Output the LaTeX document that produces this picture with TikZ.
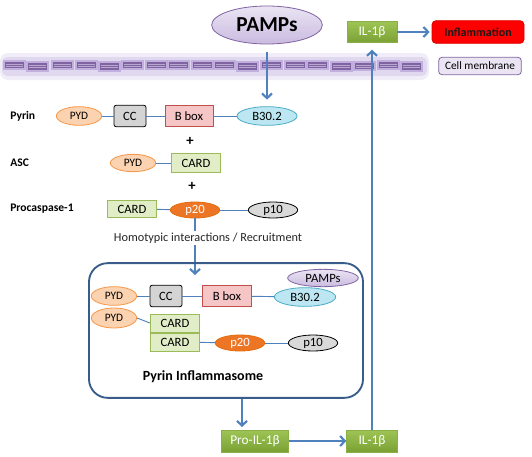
\documentclass[tikz,border=0pt]{standalone}
\usepackage{fontspec}
\setmainfont{Carlito}
\usetikzlibrary{shapes.geometric,arrows.meta}
\definecolor{linkBlue}{HTML}{4F81BD}
\definecolor{boxBlue}{HTML}{385D8A}
\definecolor{pampsViolet}{HTML}{8064A2}
\definecolor{pampsLight}{HTML}{EAE4F3}
\definecolor{pampsMid}{HTML}{CABBE0}
\definecolor{membraneGlow}{HTML}{B9A6DA}
\definecolor{membraneLine}{HTML}{B8A8D2}
\definecolor{ilGreenTop}{HTML}{9DC454}
\definecolor{ilGreenBottom}{HTML}{7BA136}
\definecolor{ilGreenEdge}{HTML}{8AAF47}
\definecolor{pydFill}{HTML}{FBD3B1}
\definecolor{pydEdge}{HTML}{F79646}
\definecolor{ccFill}{HTML}{D4D4D4}
\definecolor{bboxFill}{HTML}{F5C6C5}
\definecolor{bboxEdge}{HTML}{C0504D}
\definecolor{bthirtyFill}{HTML}{BCE6F2}
\definecolor{bthirtyEdge}{HTML}{4BACC6}
\definecolor{cardFill}{HTML}{E0EDC6}
\definecolor{cardEdge}{HTML}{9BBB59}
\definecolor{ptwentyFill}{HTML}{EC7626}
\definecolor{ptwentyEdge}{HTML}{E46C0A}
\definecolor{ptenFill}{HTML}{D9D9D9}
\definecolor{inflamRed}{HTML}{FF0000}

\tikzset{
  protbase/.style={inner sep=0pt, line width=0.6pt, font=\fontsize{9.5}{10}\selectfont},
  pydnode/.style={protbase, ellipse, draw=pydEdge, fill=pydFill, minimum width=34pt, minimum height=14pt, font=\fontsize{8.5}{9}\selectfont},
  ccnode/.style={protbase, rectangle, rounded corners=1.5pt, draw=black, fill=ccFill, minimum width=24pt, minimum height=16pt},
  bboxnode/.style={protbase, rectangle, draw=bboxEdge, fill=bboxFill, minimum width=36pt, minimum height=16pt},
  bthirtynode/.style={protbase, ellipse, draw=bthirtyEdge, fill=bthirtyFill, minimum width=45pt, minimum height=14pt},
  cardnode/.style={protbase, rectangle, draw=cardEdge, fill=cardFill, minimum width=37pt, minimum height=13.5pt},
  ptwentynode/.style={protbase, ellipse, draw=ptwentyEdge, fill=ptwentyFill, text=white, minimum width=37pt, minimum height=12pt},
  ptennode/.style={protbase, ellipse, draw=black, fill=ptenFill, minimum width=37pt, minimum height=12pt},
  ilbox/.style={protbase, rectangle, draw=ilGreenEdge, top color=ilGreenTop, bottom color=ilGreenBottom, text=white, minimum height=16.5pt, font=\fontsize{10}{11}\selectfont},
  rowlabel/.style={anchor=west, inner sep=0pt, font=\bfseries\fontsize{8.7}{10}\selectfont},
  link/.style={draw=linkBlue, line width=0.7pt},
  flowarrow/.style={draw=linkBlue, line width=1.6pt, -{Straight Barb[length=3.5pt,width=7.5pt]}},
  membraneseg/.style={rectangle, inner sep=0pt, minimum width=14.5pt, minimum height=5pt, fill=pampsViolet,
    preaction={draw=membraneGlow, line width=3pt, opacity=0.8},
    path picture={
      \draw[membraneLine, line width=0.45pt] ([xshift=1.2pt,yshift=0.9pt]path picture bounding box.west) -- ([xshift=-1.2pt,yshift=0.9pt]path picture bounding box.east);
      \draw[membraneLine, line width=0.45pt] ([xshift=1.2pt,yshift=-0.9pt]path picture bounding box.west) -- ([xshift=-1.2pt,yshift=-0.9pt]path picture bounding box.east);
    }}
}

\begin{document}
\begin{tikzpicture}[x=0.75pt, y=-0.75pt]
        \useasboundingbox (0,0) rectangle (532,457);

        % cell membrane
        \fill[membraneGlow, opacity=0.2, rounded corners=6pt] (0,53) rectangle (429,80);
        \fill[membraneGlow, opacity=0.3, rounded corners=4pt] (2,57) rectangle (427,76);
        \node[membraneseg] (mem1) at (14.5,65) {};
        \node[membraneseg] (mem2) at (37.5,66.5) {};
        \node[membraneseg] (mem3) at (62.5,65) {};
        \node[membraneseg] (mem4) at (86.5,65) {};
        \node[membraneseg] (mem5) at (109.5,66.5) {};
        \node[membraneseg] (mem6) at (132.5,65) {};
        \node[membraneseg] (mem7) at (156.5,65) {};
        \node[membraneseg] (mem8) at (178.5,65) {};
        \node[membraneseg] (mem9) at (202.5,65) {};
        \node[membraneseg] (mem10) at (224.5,65) {};
        \node[membraneseg] (mem11) at (247.5,66.5) {};
        \node[membraneseg] (mem12) at (271.5,65) {};
        \node[membraneseg] (mem13) at (295.5,65) {};
        \node[membraneseg] (mem14) at (317.5,65) {};
        \node[membraneseg] (mem15) at (341.5,66.5) {};
        \node[membraneseg] (mem16) at (364.5,66) {};
        \node[membraneseg] (mem17) at (388.5,65) {};
        \node[membraneseg] (mem18) at (411.5,66.5) {};
        \node[protbase, rectangle, rounded corners=2.5pt, draw=pampsViolet, fill=pampsLight, minimum width=62pt, minimum height=13pt, font=\fontsize{8.5}{9}\selectfont] (cellmem) at (480,66) {Cell membrane};

        % outside
        \node[protbase, ellipse, draw=pampsViolet, top color=pampsLight, bottom color=pampsMid, minimum width=83pt, minimum height=28.5pt, font=\bfseries\fontsize{16}{18}\selectfont] (pamps) at (267,25) {PAMPs};
        \node[ilbox, minimum width=37.5pt, minimum height=16pt] (il1top) at (372,32) {IL-1β};
        \node[protbase, rectangle, rounded corners=3pt, draw=red!85!black, fill=inflamRed, minimum width=69pt, minimum height=17pt, font=\bfseries\fontsize{9}{10}\selectfont, text=black!90] (inflam) at (478,32) {Inflammation};

        % Pyrin
        \node[rowlabel] (pyrinlabel) at (10,116) {Pyrin};
        \node[pydnode] (pyd1) at (79,116) {PYD};
        \node[ccnode] (cc1) at (130,116) {CC};
        \node[bboxnode] (bbox1) at (189,116) {B box};
        \node[bthirtynode] (b302a) at (267,116) {B30.2};
        \draw[link] (pyd1) -- (cc1);
        \draw[link] (cc1) -- (bbox1);
        \draw[link] (bbox1) -- (b302a);
        \node[font=\bfseries\fontsize{11}{12}\selectfont] (plus1) at (190,141) {+};

        % ASC
        \node[rowlabel] (asclabel) at (10,163) {ASC};
        \node[pydnode, minimum height=13pt] (pyd2) at (133,163) {PYD};
        \node[cardnode, minimum height=14pt] (card1) at (196,163) {CARD};
        \draw[link] (pyd2) -- (card1);
        \node[font=\bfseries\fontsize{11}{12}\selectfont] (plus2) at (192,186) {+};

        % Procaspase-1
        \node[rowlabel] (proclabel) at (10,209) {Procaspase-1};
        \node[cardnode, minimum height=12.5pt] (card2) at (132,209) {CARD};
        \node[ptwentynode] (p20a) at (195,210) {p20};
        \node[ptennode] (p10a) at (273,210) {p10};
        \draw[link] (card2) -- (p20a);
        \draw[link] (p20a) -- (p10a);

        % recruitment
        \coordinate (recruitTip) at (195,275);
        \draw[flowarrow] (p20a.south) -- (recruitTip);
        \node[fill=white, inner sep=1.5pt, text=black!85, font=\fontsize{9.2}{10}\selectfont] (homotypic) at (208,238) {Homotypic interactions / Recruitment};

        % inflammasome
        \node[draw=boxBlue, line width=1.4pt, rounded corners=14pt, minimum width=205.5pt, minimum height=101pt, inner sep=0pt] (inflammasome) at (226,330.5) {};
        \node[protbase, ellipse, draw=pampsViolet, top color=pampsLight, bottom color=pampsMid, minimum width=53pt, minimum height=13pt] (pamps2) at (323,278) {PAMPs};
        \node[pydnode] (pyd3) at (114,296) {PYD};
        \node[ccnode] (cc2) at (166,296) {CC};
        \node[bboxnode, minimum width=37pt] (bbox2) at (227,296) {B box};
        \node[bthirtynode, minimum width=46pt] (b302b) at (305,297) {B30.2};
        \draw[link] (pyd3) -- (cc2);
        \draw[link] (cc2) -- (bbox2);
        \draw[link] (bbox2) -- (b302b);
        \node[pydnode, minimum height=15pt] (pyd4) at (114,318) {PYD};
        \node[cardnode] (card3) at (175,323) {CARD};
        \node[cardnode] (card4) at (175,342) {CARD};
        \node[ptwentynode] (p20b) at (240,343) {p20};
        \node[ptennode] (p10b) at (313,343) {p10};
        \draw[link] (pyd4.east) -- (card3.west);
        \draw[link] (card4) -- (p20b);
        \draw[link] (p20b) -- (p10b);
        \node[font=\bfseries\fontsize{10.5}{12}\selectfont] (title) at (203,377) {Pyrin Inflammasome};

        % IL-1 beta
        \node[ilbox, minimum width=50pt] (proil) at (255,441) {Pro-IL-1β};
        \node[ilbox, minimum width=38pt] (il1bot) at (372,441) {IL-1β};
        \coordinate (proTip) at (242,427);
        \draw[flowarrow] (inflammasome.south -| proTip) -- (proTip);
        \draw[flowarrow] (proil) -- (il1bot);
        \draw[flowarrow, shorten >=5pt] (il1bot.north) -- (il1top.south);
        \draw[flowarrow, shorten >=1.5pt] (il1top) -- (inflam);
        \draw[flowarrow, shorten <=6pt, shorten >=5pt] (pamps.south) -- (b302a.north);

\end{tikzpicture}
\end{document}
